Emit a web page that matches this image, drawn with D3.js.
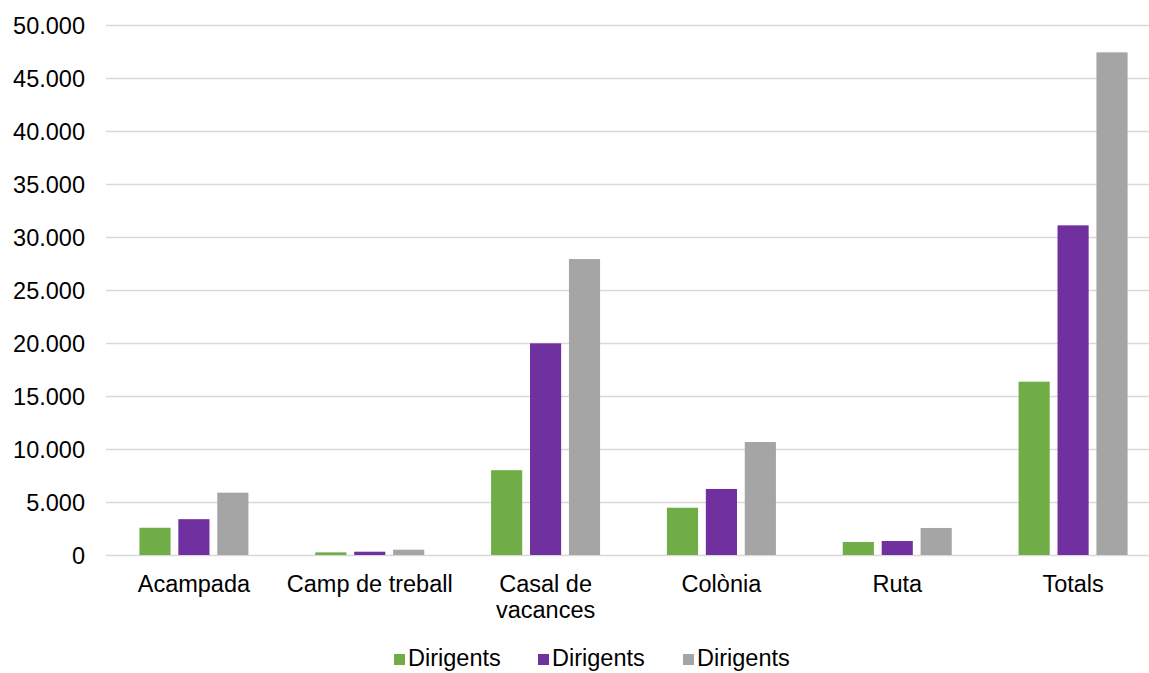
<!DOCTYPE html>
<html>
<head>
<meta charset="utf-8">
<script src="https://cdn.jsdelivr.net/npm/d3@7"></script>
<style>
  body { margin: 0; background: #fff; }
  text { font-family: "Liberation Sans", Arial, sans-serif; fill: #000; }
</style>
</head>
<body>
<svg id="svg" width="1149" height="673"></svg>
<script>
const categories = ["Acampada", "Camp de treball", "Casal de vacances", "Colònia", "Ruta", "Totals"];
const seriesNames = ["Dirigents", "Dirigents", "Dirigents"];
const serie1 = [2570, 250, 8000, 4460, 1230, 16350];
const serie2 = [3380, 310, 19970, 6230, 1320, 31100];
const serie3 = [5880, 500, 27920, 10660, 2550, 47420];
const yTicks = [0, 5000, 10000, 15000, 20000, 25000, 30000, 35000, 40000, 45000, 50000];
const colors = ["#70ad47", "#7030a0", "#a5a5a5"];

const svg = d3.select("#svg");
const plotLeft = 106, plotRight = 1161, plotTop = 25, plotBottom = 555;

const x = d3.scaleBand().domain(categories).range([plotLeft, plotRight]).paddingInner(0).paddingOuter(0);
const y = d3.scaleLinear().domain([0, 50000]).range([plotBottom, plotTop]);
const xs = d3.scaleBand().domain([0, 1, 2]).range([0, 109]).paddingInner(0.2);
const groupOffset = (x.bandwidth() - 109) / 2;

// gridlines
svg.append("g").selectAll("line").data(yTicks).join("line")
  .attr("x1", plotLeft).attr("x2", 1149)
  .attr("y1", d => Math.round(y(d)) + 0.5).attr("y2", d => Math.round(y(d)) + 0.5)
  .attr("stroke", "#d9d9d9").attr("stroke-width", 1.3);

// y axis labels
const fmt = d3.formatLocale({decimal: ",", thousands: ".", grouping: [3], currency: ["", "€"]}).format(",d");
svg.append("g").selectAll("text").data(yTicks).join("text")
  .attr("x", 85).attr("y", d => y(d) + 8.5)
  .attr("text-anchor", "end").style("font-size", "23.5px")
  .text(d => fmt(d));

// bars
const series = [serie1, serie2, serie3];
series.forEach((vals, s) => {
  svg.append("g").selectAll("rect").data(vals).join("rect")
    .attr("x", (d, i) => x(categories[i]) + groupOffset + xs(s))
    .attr("width", xs.bandwidth())
    .attr("y", d => y(d))
    .attr("height", d => y(0) - y(d))
    .attr("fill", colors[s]);
});

// category labels
const labelLines = {"Casal de vacances": ["Casal de", "vacances"]};
const cat = svg.append("g").selectAll("text").data(categories).join("text")
  .attr("x", d => x(d) + x.bandwidth() / 2)
  .attr("y", 592)
  .attr("text-anchor", "middle").style("font-size", "23.5px");
cat.each(function(d) {
  const lines = labelLines[d] || [d];
  d3.select(this).selectAll("tspan").data(lines).join("tspan")
    .attr("x", x(d) + x.bandwidth() / 2)
    .attr("dy", (l, i) => i === 0 ? 0 : 25.5)
    .text(l => l);
});

// legend (nudged up a little so descenders stay inside the frame)
const legendX = [394, 538, 683];
const lg = svg.append("g").selectAll("g").data(seriesNames).join("g")
  .attr("transform", (d, i) => `translate(${legendX[i]},654)`);
lg.append("rect").attr("width", 11).attr("height", 11).attr("fill", (d, i) => colors[i]);
lg.append("text").attr("x", 14).attr("y", 12)
  .style("font-size", "23.5px").text(d => d);
</script>
</body>
</html>
